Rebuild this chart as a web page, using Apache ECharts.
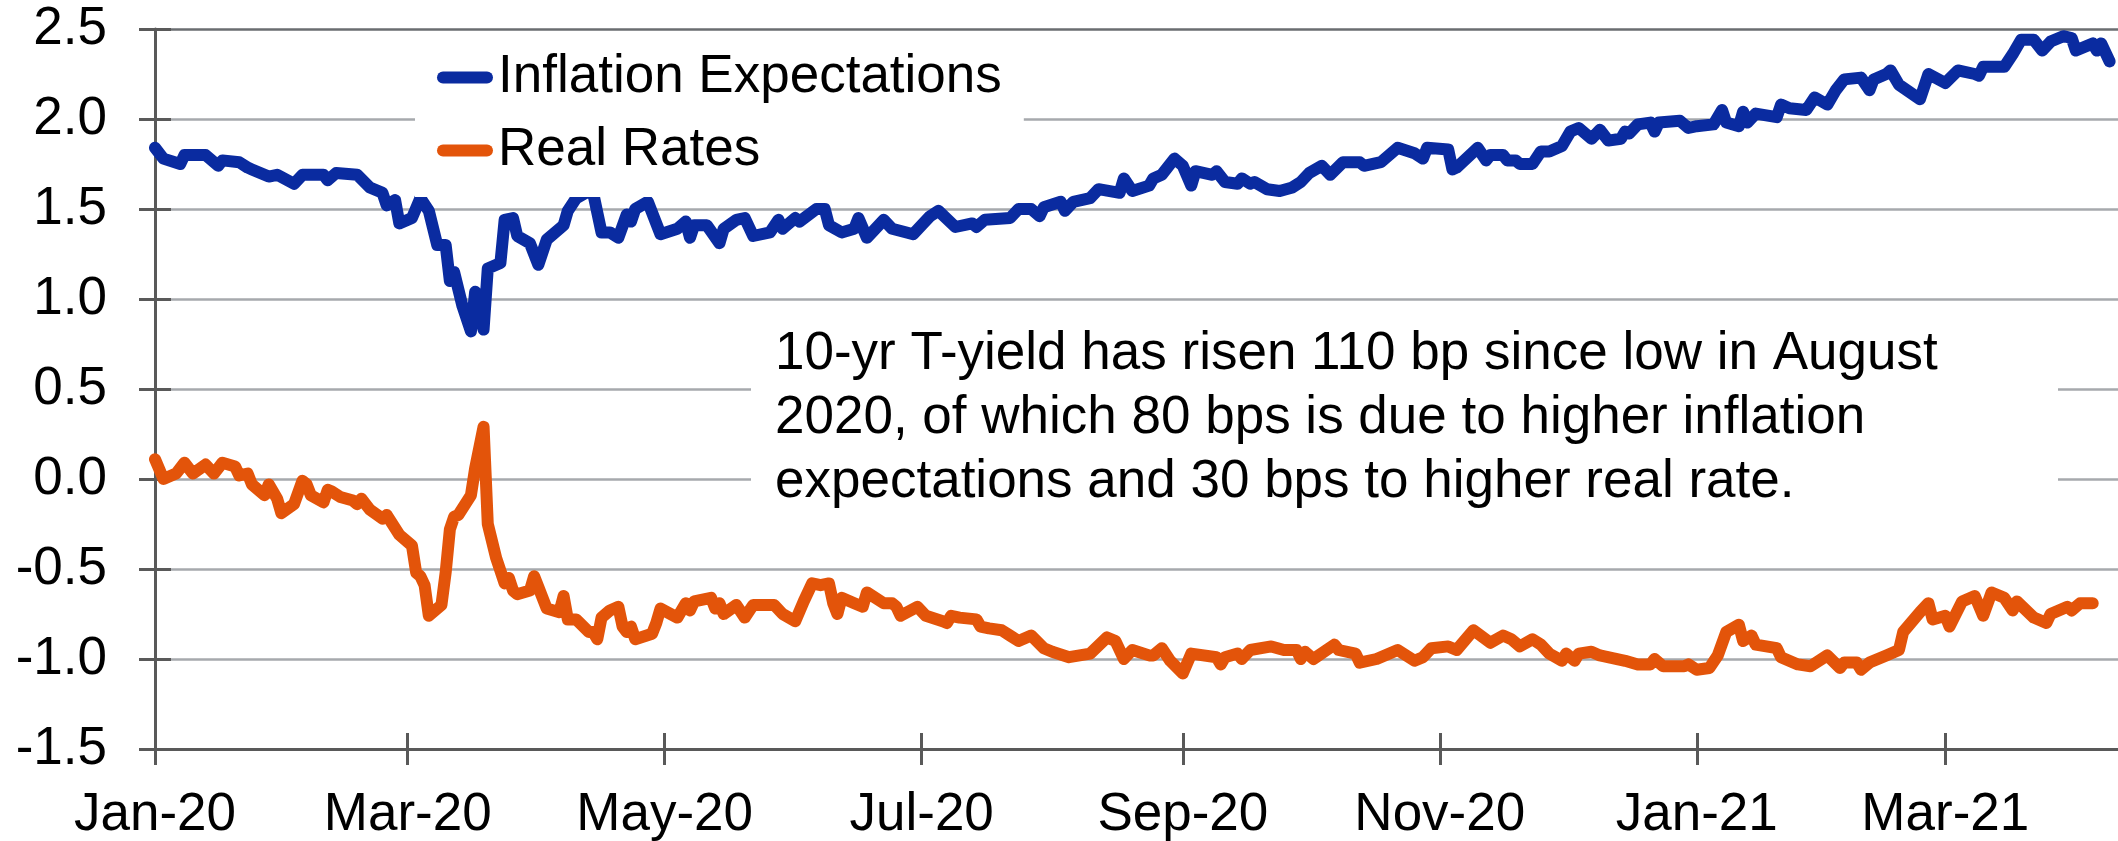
<!DOCTYPE html>
<html>
<head>
<meta charset="utf-8">
<script src="https://cdn.jsdelivr.net/npm/echarts@6/dist/echarts.min.js"></script>
<style>
  html, body { margin: 0; padding: 0; background: #fff; }
  #chart { width: 2118px; height: 841px; }
</style>
</head>
<body>
<div id="chart"></div>
<script>
// x values are days counted from 1 Jan 2020
const inflDays = [0, 2, 6, 7, 12, 15, 16, 20, 22, 23, 27, 29, 33, 35, 40, 41, 43, 48, 51, 54, 55, 57, 58, 61, 63, 65, 67, 69, 70, 71, 73, 75, 76, 78, 79, 82, 83, 85, 86, 89, 91, 93, 97, 98, 100, 103, 104, 106, 108, 110, 112, 113, 114, 117, 120, 124, 126, 127, 128, 131, 134, 135, 138, 140, 142, 146, 148, 149, 152, 153, 157, 159, 160, 163, 166, 167, 169, 173, 175, 180, 184, 186, 190, 194, 195, 197, 203, 205, 208, 210, 211, 215, 216, 218, 222, 224, 229, 230, 232, 236, 237, 239, 242, 244, 246, 247, 251, 252, 254, 257, 258, 260, 261, 264, 267, 270, 272, 274, 277, 279, 282, 286, 287, 291, 295, 299, 301, 302, 307, 308, 309, 314, 316, 317, 320, 321, 323, 324, 327, 329, 331, 334, 336, 338, 341, 343, 345, 348, 349, 350, 352, 355, 356, 357, 362, 364, 366, 370, 372, 373, 376, 377, 378, 380, 385, 386, 388, 392, 394, 397, 399, 401, 405, 407, 408, 411, 412, 414, 419, 421, 425, 428, 432, 433, 434, 439, 441, 443, 446, 448, 450, 453, 455, 456, 460, 461, 462, 464];
const inflValues = [1.84, 1.78, 1.75, 1.80, 1.80, 1.74, 1.77, 1.76, 1.73, 1.72, 1.68, 1.69, 1.64, 1.69, 1.69, 1.66, 1.70, 1.69, 1.62, 1.59, 1.52, 1.55, 1.42, 1.45, 1.56, 1.49, 1.30, 1.30, 1.10, 1.15, 0.96, 0.82, 1.04, 0.83, 1.17, 1.20, 1.44, 1.45, 1.35, 1.31, 1.19, 1.33, 1.41, 1.49, 1.56, 1.60, 1.59, 1.37, 1.37, 1.34, 1.47, 1.43, 1.50, 1.54, 1.36, 1.39, 1.43, 1.34, 1.41, 1.41, 1.31, 1.39, 1.44, 1.45, 1.35, 1.37, 1.44, 1.39, 1.45, 1.43, 1.50, 1.50, 1.41, 1.37, 1.39, 1.45, 1.34, 1.44, 1.39, 1.36, 1.46, 1.49, 1.40, 1.42, 1.40, 1.44, 1.45, 1.50, 1.50, 1.46, 1.51, 1.54, 1.49, 1.54, 1.56, 1.61, 1.59, 1.67, 1.60, 1.63, 1.67, 1.69, 1.78, 1.74, 1.63, 1.71, 1.69, 1.71, 1.65, 1.64, 1.67, 1.64, 1.65, 1.61, 1.60, 1.62, 1.65, 1.70, 1.74, 1.69, 1.76, 1.76, 1.74, 1.76, 1.84, 1.81, 1.78, 1.84, 1.83, 1.72, 1.73, 1.84, 1.77, 1.80, 1.80, 1.77, 1.77, 1.75, 1.75, 1.82, 1.82, 1.85, 1.93, 1.95, 1.89, 1.94, 1.88, 1.89, 1.93, 1.92, 1.97, 1.98, 1.93, 1.98, 1.99, 1.95, 1.96, 1.97, 2.05, 1.98, 1.96, 2.04, 1.98, 2.03, 2.01, 2.08, 2.06, 2.05, 2.12, 2.08, 2.16, 2.22, 2.23, 2.16, 2.22, 2.25, 2.27, 2.19, 2.11, 2.25, 2.20, 2.27, 2.25, 2.24, 2.29, 2.29, 2.36, 2.44, 2.44, 2.38, 2.43, 2.46, 2.45, 2.38, 2.42, 2.38, 2.42, 2.32];

const realDays = [0, 2, 5, 7, 9, 12, 14, 16, 19, 20, 22, 23, 26, 27, 29, 30, 33, 35, 36, 37, 40, 41, 42, 44, 47, 48, 49, 51, 54, 55, 58, 61, 62, 63, 64, 65, 68, 69, 70, 71, 72, 75, 76, 78, 79, 81, 83, 84, 85, 86, 89, 90, 91, 93, 96, 97, 98, 100, 103, 104, 105, 106, 108, 110, 111, 112, 113, 114, 118, 119, 120, 124, 126, 127, 128, 132, 133, 134, 135, 138, 140, 142, 147, 149, 152, 154, 156, 158, 160, 161, 162, 163, 166, 168, 169, 173, 175, 176, 177, 181, 183, 187, 188, 189, 191, 195, 196, 198, 201, 203, 205, 208, 211, 213, 217, 222, 226, 228, 230, 232, 236, 237, 239, 241, 244, 246, 252, 253, 254, 257, 258, 260, 265, 268, 271, 272, 273, 275, 280, 281, 285, 286, 290, 295, 299, 301, 303, 307, 309, 313, 317, 320, 322, 324, 327, 329, 331, 334, 335, 337, 338, 341, 343, 349, 352, 355, 356, 358, 363, 364, 366, 369, 371, 373, 376, 377, 379, 380, 385, 386, 390, 393, 397, 400, 401, 404, 405, 407, 411, 414, 415, 419, 421, 422, 425, 426, 429, 432, 434, 436, 439, 441, 442, 446, 449, 450, 454, 455, 457, 460];
const realValues = [0.11, 0.00, 0.03, 0.09, 0.03, 0.08, 0.03, 0.09, 0.07, 0.02, 0.03, -0.03, -0.09, -0.03, -0.11, -0.19, -0.14, -0.01, -0.03, -0.09, -0.13, -0.06, -0.07, -0.10, -0.12, -0.14, -0.11, -0.17, -0.22, -0.20, -0.31, -0.37, -0.52, -0.54, -0.59, -0.76, -0.70, -0.52, -0.28, -0.21, -0.20, -0.09, 0.06, 0.29, -0.25, -0.44, -0.58, -0.55, -0.62, -0.64, -0.62, -0.54, -0.60, -0.72, -0.74, -0.65, -0.78, -0.78, -0.85, -0.85, -0.89, -0.77, -0.73, -0.71, -0.82, -0.85, -0.82, -0.89, -0.86, -0.80, -0.72, -0.77, -0.69, -0.73, -0.68, -0.66, -0.72, -0.69, -0.75, -0.70, -0.77, -0.70, -0.70, -0.75, -0.79, -0.68, -0.58, -0.59, -0.58, -0.69, -0.75, -0.66, -0.69, -0.71, -0.63, -0.69, -0.69, -0.71, -0.76, -0.71, -0.76, -0.79, -0.80, -0.76, -0.77, -0.78, -0.82, -0.83, -0.84, -0.87, -0.90, -0.87, -0.94, -0.96, -0.99, -0.97, -0.88, -0.90, -1.00, -0.95, -0.98, -0.98, -0.94, -1.01, -1.08, -0.97, -0.99, -1.03, -0.99, -0.97, -1.00, -0.95, -0.93, -0.95, -0.95, -1.00, -0.96, -1.00, -0.92, -0.95, -0.97, -1.02, -1.00, -0.95, -1.01, -0.99, -0.94, -0.93, -0.95, -0.84, -0.91, -0.87, -0.89, -0.93, -0.89, -0.92, -0.97, -1.01, -0.97, -1.01, -0.97, -0.96, -0.98, -1.01, -1.03, -1.03, -1.00, -1.04, -1.04, -1.03, -1.06, -1.05, -0.98, -0.85, -0.81, -0.90, -0.87, -0.92, -0.94, -0.99, -1.03, -1.04, -0.98, -1.05, -1.02, -1.02, -1.06, -1.02, -0.98, -0.95, -0.85, -0.74, -0.69, -0.78, -0.76, -0.82, -0.68, -0.65, -0.76, -0.63, -0.66, -0.73, -0.68, -0.77, -0.80, -0.75, -0.71, -0.73, -0.69, -0.69];

const xTickDays = [0, 60, 121, 182, 244, 305, 366, 425];
const xTickLabels = ['Jan-20', 'Mar-20', 'May-20', 'Jul-20', 'Sep-20', 'Nov-20', 'Jan-21', 'Mar-21'];

const noteLines = [
  '10-yr T-yield has risen 110 bp since low in August',
  '2020, of which 80 bps is due to higher inflation',
  'expectations and 30 bps to higher real rate.'
];

const FONT = '"Liberation Sans", Arial, sans-serif';
const FONT_SIZE = 53;
const AXIS_COLOR = '#595959';
const GRID_COLOR = '#a6a9ad';

const chart = echarts.init(document.getElementById('chart'));

function pairs(days, values) {
  return days.map((d, i) => [d, values[i]]);
}

// second pair of axes only draws the inner half of the crossing ticks
const tickOnlyX = {
  type: 'value', min: 0, max: 466, position: 'bottom',
  axisLine: { show: false, onZero: false },
  axisTick: { show: true, inside: true, length: 16, customValues: xTickDays, lineStyle: { color: AXIS_COLOR, width: 3 } },
  axisLabel: { show: false },
  splitLine: { show: false }
};
const tickOnlyY = {
  type: 'value', min: -1.5, max: 2.5, interval: 0.5, position: 'left',
  axisLine: { show: false, onZero: false },
  axisTick: { show: true, inside: true, length: 16, lineStyle: { color: AXIS_COLOR, width: 3 } },
  axisLabel: { show: false },
  splitLine: { show: false }
};

chart.setOption({
  animation: false,
  backgroundColor: '#fff',
  textStyle: { fontFamily: FONT },
  grid: { left: 155, right: 0, top: 29, bottom: 92, containLabel: false, outerBoundsMode: 'none' },
  legend: {
    data: ['Inflation Expectations', 'Real Rates'],
    orient: 'vertical',
    left: 415,
    top: 39,
    padding: [12, 22, 20, 22],
    itemGap: 20,
    itemWidth: 56,
    itemHeight: 12,
    icon: 'path://M6 0H50A6 6 0 0 1 50 12H6A6 6 0 0 1 6 0Z',
    backgroundColor: '#fff',
    textStyle: { fontFamily: FONT, fontSize: FONT_SIZE, lineHeight: 52, color: '#000' }
  },
  xAxis: [
    {
      type: 'value', min: 0, max: 466, position: 'bottom',
      axisLine: { show: true, onZero: false, lineStyle: { color: AXIS_COLOR, width: 3 } },
      axisTick: { show: true, length: 16, customValues: xTickDays, lineStyle: { color: AXIS_COLOR, width: 3 } },
      axisLabel: {
        customValues: xTickDays,
        margin: 40,
        fontFamily: FONT, fontSize: FONT_SIZE, color: '#000',
        formatter: (v) => xTickLabels[xTickDays.indexOf(v)] || ''
      },
      splitLine: { show: false }
    },
    tickOnlyX
  ],
  yAxis: [
    {
      type: 'value', min: -1.5, max: 2.5, interval: 0.5, position: 'left',
      axisLine: { show: true, onZero: false, lineStyle: { color: AXIS_COLOR, width: 3 } },
      axisTick: { show: true, length: 16, lineStyle: { color: AXIS_COLOR, width: 3 } },
      axisLabel: {
        margin: 48,
        fontFamily: FONT, fontSize: FONT_SIZE, color: '#000',
        formatter: (v) => v.toFixed(1)
      },
      splitLine: {
        show: true,
        lineStyle: {
          color: [GRID_COLOR, GRID_COLOR, GRID_COLOR, GRID_COLOR, GRID_COLOR, GRID_COLOR, GRID_COLOR, GRID_COLOR, '#6a6d70'],
          width: 2.5
        }
      }
    },
    tickOnlyY
  ],
  graphic: [{
    type: 'group',
    left: 751,
    top: 305,
    children: [
      { type: 'rect', z: 10, shape: { x: 0, y: 0, width: 1307, height: 250 }, style: { fill: '#fff' } },
      {
        type: 'text', z: 11, x: 24, y: 17,
        style: {
          text: noteLines.join('\n'),
          fontFamily: FONT, fontSize: FONT_SIZE, lineHeight: 64,
          fill: '#000', verticalAlign: 'top'
        }
      }
    ]
  }],
  series: [
    {
      name: 'Inflation Expectations',
      type: 'line',
      showSymbol: false,
      symbol: 'none',
      data: pairs(inflDays, inflValues),
      lineStyle: { color: '#0a2ba0', width: 12, cap: 'round', join: 'round' },
      itemStyle: { color: '#0a2ba0' },
      z: 3
    },
    {
      name: 'Real Rates',
      type: 'line',
      showSymbol: false,
      symbol: 'none',
      data: pairs(realDays, realValues),
      lineStyle: { color: '#e3540a', width: 12, cap: 'round', join: 'round' },
      itemStyle: { color: '#e3540a' },
      z: 3
    }
  ]
});
</script>
</body>
</html>
